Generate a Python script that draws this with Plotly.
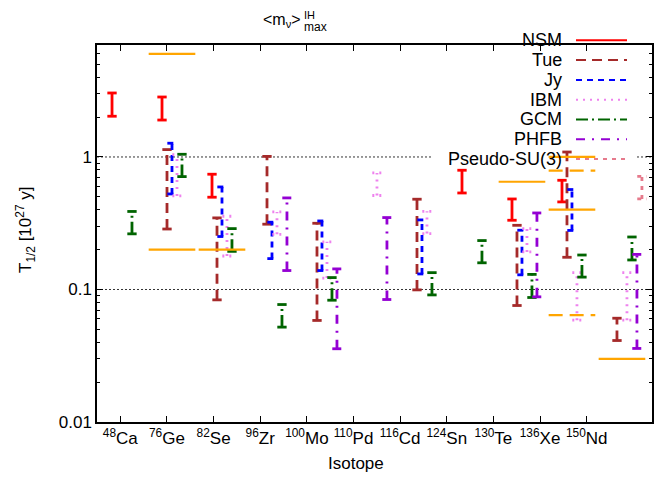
import plotly.graph_objects as go

# ---------------- data ----------------
isotopes = ["<sup>48</sup>Ca", "<sup>76</sup>Ge", "<sup>82</sup>Se", "<sup>96</sup>Zr",
            "<sup>100</sup>Mo", "<sup>110</sup>Pd", "<sup>116</sup>Cd", "<sup>124</sup>Sn",
            "<sup>130</sup>Te", "<sup>136</sup>Xe", "<sup>150</sup>Nd"]

#          Ca     Ge     Se     Zr     Mo     Pd     Cd     Sn     Te     Xe     Nd
nsm_lo  = [2.03,  1.90,  0.497, None,  None,  None,  None,  0.535, 0.333, 0.458, None]
nsm_hi  = [3.04,  2.835, 0.741, None,  None,  None,  None,  0.794, 0.482, 0.667, None]
tue_lo  = [None,  0.286, 0.0835, 0.311, 0.0584, None, 0.0993, None, 0.0757, 0.175, 0.0412]
tue_hi  = [None,  1.137, 0.347, 1.01,  0.316, None,  0.480, None,  0.305, 1.09,  0.0607]
jy_lo   = [None,  0.526, 0.251, 0.171, 0.139, None,  0.131, None,  0.129, 0.279, None]
jy_hi   = [None,  1.27,  0.594, 0.322, 0.329, None,  0.335, None,  0.280, 0.568, None]
ibm_lo  = [None,  0.508, 0.179, 0.261, 0.122, 0.512, 0.264, None,  0.192, 0.0587, 0.0587]
ibm_hi  = [None,  1.04,  0.357, 0.385, 0.229, 0.758, 0.389, None,  0.288, 0.134, 0.134]
gcm_lo  = [0.263, 0.711, 0.194, 0.052, 0.083, None,  0.091, 0.159, 0.087, 0.124, 0.167]
gcm_hi  = [0.388, 1.048, 0.288, 0.077, 0.123, None,  0.134, 0.234, 0.130, 0.182, 0.249]
phfb_lo = [None,  None,  None,  0.139, 0.0357, 0.084, None, None,  0.088, None,  0.0359]
phfb_hi = [None,  None,  None,  0.491, 0.143, 0.349, None,  None,  0.378, None,  0.184]
psu3_lo = [None,  None,  None,  None,  None,  None,  None,  None,  None,  None,  0.482]
psu3_hi = [None,  None,  None,  None,  None,  None,  None,  None,  None,  None,  0.715]

# experimental limits (orange lines), per isotope
exp_solid  = [[], [6.0, 0.2], [0.2], [], [], [], [], [], [0.65], [1.0, 0.40], [0.03]]
exp_dashed = [[], [], [], [], [], [], [], [], [], [0.79, 0.064], []]

grid_vals = [0.1, 1]

# ---------------- layout helpers ----------------
# the page body adds an 8px offset; plot area wanted at page x 97..652, y 45..422
OFF = 8
PL, PT, PR, PB = 97, 45, 652, 422
W, H = 646, 469
ML, MT = PL - OFF, PT - OFF
PW, PH = PR - PL, PB - PT
MR, MB = W - ML - PW, H - MT - PH
XR = [0.5, 12.4]

def px(xp):
    return (xp - PL) / PW

def py(yp):
    return (PB - yp) / PH

def xdata(xp):
    return XR[0] + px(xp) * (XR[1] - XR[0])

GROUP_STEP = 1.072
BASE = 0.822
SUB_STEP = 0.107
CAP = 0.1
HALF = 0.5

def xpos(i, k):
    return BASE + GROUP_STEP * i + SUB_STEP * k

models = [
    ("NSM", nsm_lo, nsm_hi, "#ff0000", "solid"),
    ("Tue", tue_lo, tue_hi, "#a52a2a", "10px,6px"),
    ("Jy", jy_lo, jy_hi, "#0000ff", "6px,5px"),
    ("IBM", ibm_lo, ibm_hi, "#ee82ee", "2px,5px"),
    ("GCM", gcm_lo, gcm_hi, "#006400", "12px,4px,2px,4px"),
    ("PHFB", phfb_lo, phfb_hi, "#9400d3", "9px,7px,2px,7px"),
    ("Pseudo-SU(3)", psu3_lo, psu3_hi, "#e67a8c", "4px,5px"),
]

fig = go.Figure()

# dotted grid at major ticks; the one at 1 is interrupted behind the key box
gx, gy = [], []
for g in grid_vals:
    if g >= 1:
        gx += [XR[0], xdata(432), None, xdata(637), XR[1], None]
        gy += [g, g, None, g, g, None]
    else:
        gx += [XR[0], XR[1], None]
        gy += [g, g, None]
fig.add_trace(go.Scatter(x=gx, y=gy, mode="lines", showlegend=False, hoverinfo="skip",
                         line=dict(color="#333333", width=1, dash="2px,2px")))

for k, (name, lo, hi, color, dash) in enumerate(models):
    xs, ys = [], []
    for i, (a, b) in enumerate(zip(lo, hi)):
        if a is None or b is None:
            continue
        x = xpos(i, k)
        xs += [x, x, None, x - CAP, x + CAP, None, x - CAP, x + CAP, None]
        ys += [a, b, None, b, b, None, a, a, None]
    fig.add_trace(go.Scatter(x=xs, y=ys, mode="lines", name=name,
                             line=dict(color=color, width=2.8, dash=dash),
                             showlegend=False, hoverinfo="skip"))

for vals_list, dash in ((exp_solid, "solid"), (exp_dashed, "14px,7px")):
    xs, ys = [], []
    for i, vals in enumerate(vals_list):
        c = xpos(i, 2)
        for v in vals:
            xs += [c - HALF, c + HALF, None]
            ys += [v, v, None]
    fig.add_trace(go.Scatter(x=xs, y=ys, mode="lines",
                             line=dict(color="#ffa500", width=2.2, dash=dash),
                             showlegend=False, hoverinfo="skip"))

FONT = "Liberation Sans, Arial, sans-serif"
shapes = []
annotations = []

# manual key (text left of sample line, as in gnuplot)
for k, (name, lo, hi, color, dash) in enumerate(models):
    yk = 40.3 + 19.8 * k
    annotations.append(dict(text=name, xref="paper", yref="paper", x=px(564), y=py(yk),
                            xanchor="right", yanchor="middle", showarrow=False,
                            font=dict(family=FONT, size=18, color="black")))
    shapes.append(dict(type="line", xref="paper", yref="paper", layer="above",
                       x0=px(576), x1=px(627), y0=py(yk), y1=py(yk),
                       line=dict(color=color, width=2, dash=dash)))

# titles
annotations.append(dict(text="&lt;m<sub>ν</sub>&gt;", xref="paper", yref="paper",
                        x=px(303), y=py(21), xanchor="right", yanchor="middle",
                        showarrow=False, font=dict(family=FONT, size=16, color="black")))
annotations.append(dict(text="IH", xref="paper", yref="paper",
                        x=px(302), y=py(15), xanchor="left", yanchor="middle",
                        showarrow=False, font=dict(family=FONT, size=11, color="black")))
annotations.append(dict(text="max", xref="paper", yref="paper",
                        x=px(302), y=py(27), xanchor="left", yanchor="middle",
                        showarrow=False, font=dict(family=FONT, size=12, color="black")))
annotations.append(dict(text="Isotope", xref="paper", yref="paper",
                        x=px(356), y=py(463), xanchor="center", yanchor="middle",
                        showarrow=False, font=dict(family=FONT, size=17, color="black")))
annotations.append(dict(text="T<sub>1/2</sub> [10<sup>27</sup> y]", xref="paper", yref="paper",
                        x=px(25), y=py(230), xanchor="center", yanchor="middle",
                        textangle=-90, showarrow=False,
                        font=dict(family=FONT, size=17, color="black")))

minor_vals = [m * 10 ** e for e in (-2, -1, 0) for m in range(2, 10)]

fig.update_layout(
    width=W, height=H,
    margin=dict(l=ML, r=MR, t=MT, b=MB, autoexpand=False),
    plot_bgcolor="white", paper_bgcolor="white",
    font=dict(family=FONT, size=17, color="black"),
    shapes=shapes, annotations=annotations,
    xaxis=dict(range=XR, tickvals=list(range(1, 12)), ticktext=isotopes,
               ticks="inside", ticklen=6, tickwidth=1, tickcolor="black",
               showline=True, linecolor="black", linewidth=1.5, mirror="allticks",
               showgrid=False, zeroline=False, automargin=False,
               tickfont=dict(family=FONT, size=17, color="black")),
    yaxis=dict(type="log", range=[-2, 0.845], tickvals=[0.01, 0.1, 1],
               ticktext=["0.01", "0.1", "1"],
               ticks="inside", ticklen=6, tickwidth=1, tickcolor="black",
               showline=True, linecolor="black", linewidth=1.5, mirror="allticks",
               showgrid=False, zeroline=False, automargin=False,
               minor=dict(tickvals=minor_vals, ticks="inside", ticklen=3,
                          tickcolor="black", showgrid=False),
               tickfont=dict(family=FONT, size=17, color="black")),
)

fig.write_html("out.html")
